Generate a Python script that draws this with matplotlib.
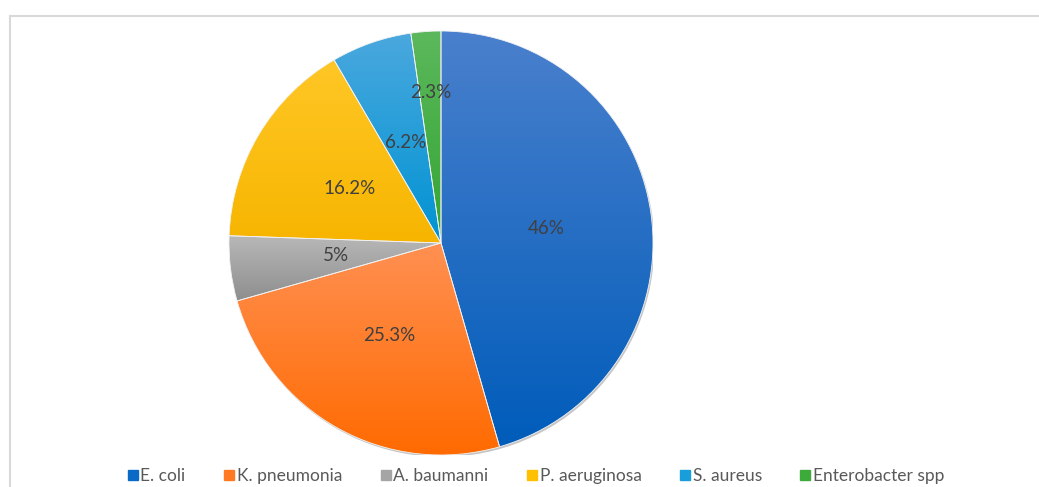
import numpy as np
import matplotlib.pyplot as plt
from matplotlib.colors import to_rgb
from matplotlib.lines import Line2D
from matplotlib.patches import Circle

# data
species = ["E. coli", "K. pneumonia", "A. baumanni", "P. aeruginosa", "S. aureus", "Enterobacter spp"]
shares = [46, 25.3, 5, 16.2, 6.2, 2.3]
pct_labels = ["46%", "25.3%", "5%", "16.2%", "6.2%", "2.3%"]

# gradient colours (top, bottom) per slice
top_cols = ["#4a80cd", "#ff9052", "#b8b8b8", "#ffc726", "#4aa8de", "#5cb85c"]
bot_cols = ["#005cba", "#ff6a00", "#8e8e8e", "#f7b500", "#0093d3", "#33a532"]
solid_cols = ["#0a6bc6", "#ff7a22", "#a5a5a5", "#ffc000", "#1a9ddb", "#3cab3a"]
label_r = [0.5, 0.5, 0.5, 0.5, 0.5, 0.71]

plt.rcParams['font.family'] = ['Lato', 'DejaVu Sans']

W, H = 1039, 487
fig = plt.figure(figsize=(W / 100, H / 100), dpi=100)

cx, cy, R = 441, 243, 212
ax = fig.add_axes([(cx - R) / W, (H - cy - R) / H, 2 * R / W, 2 * R / H])

wedges, _ = ax.pie(shares, startangle=90, counterclock=False, radius=1,
                   wedgeprops=dict(edgecolor="#f2f2f2", linewidth=0.6, facecolor="none"))

# soft shadow under the pie
ax.add_patch(Circle((0.006, -0.009), 1.0, facecolor="#7f7f7f", alpha=0.45, zorder=0, lw=0))

for i, w in enumerate(wedges):
    verts = w.get_path().vertices
    x0, x1 = verts[:, 0].min(), verts[:, 0].max()
    y0, y1 = verts[:, 1].min(), verts[:, 1].max()
    t = np.linspace(0, 1, 256)[:, None]
    c0 = np.array(to_rgb(top_cols[i]))
    c1 = np.array(to_rgb(bot_cols[i]))
    grad = (1 - t) * c0 + t * c1
    img = np.repeat(grad[:, None, :], 2, axis=1)
    im = ax.imshow(img, extent=(x0, x1, y0, y1), origin="upper", aspect="auto",
                   interpolation="bilinear", zorder=1)
    im.set_clip_path(w)
    w.set_zorder(2)
    th = np.deg2rad((w.theta1 + w.theta2) / 2)
    ax.text(label_r[i] * np.cos(th), label_r[i] * np.sin(th), pct_labels[i],
            ha="center", va="center", fontsize=13.5, color="#404040", zorder=3)

ax.set_xlim(-1, 1)
ax.set_ylim(-1, 1)
ax.axis("off")

handles = [Line2D([], [], marker="s", linestyle="none", markersize=7,
                  markerfacecolor=c, markeredgecolor=c) for c in solid_cols]
fig.legend(handles, species, loc="center", bbox_to_anchor=(536 / W, 1 - 476 / H),
           ncol=6, frameon=False, fontsize=12.5, handlelength=0.6, handletextpad=0.15,
           columnspacing=2.2, labelcolor="#595959")

# chart border (top and left visible)
fig.add_artist(Line2D([10 / W, 1], [1 - 16 / H, 1 - 16 / H], color="#d9d9d9", lw=1.5))
fig.add_artist(Line2D([10 / W, 10 / W], [0, 1 - 16 / H], color="#d9d9d9", lw=1.5))

fig.savefig("out.png", dpi=100)
